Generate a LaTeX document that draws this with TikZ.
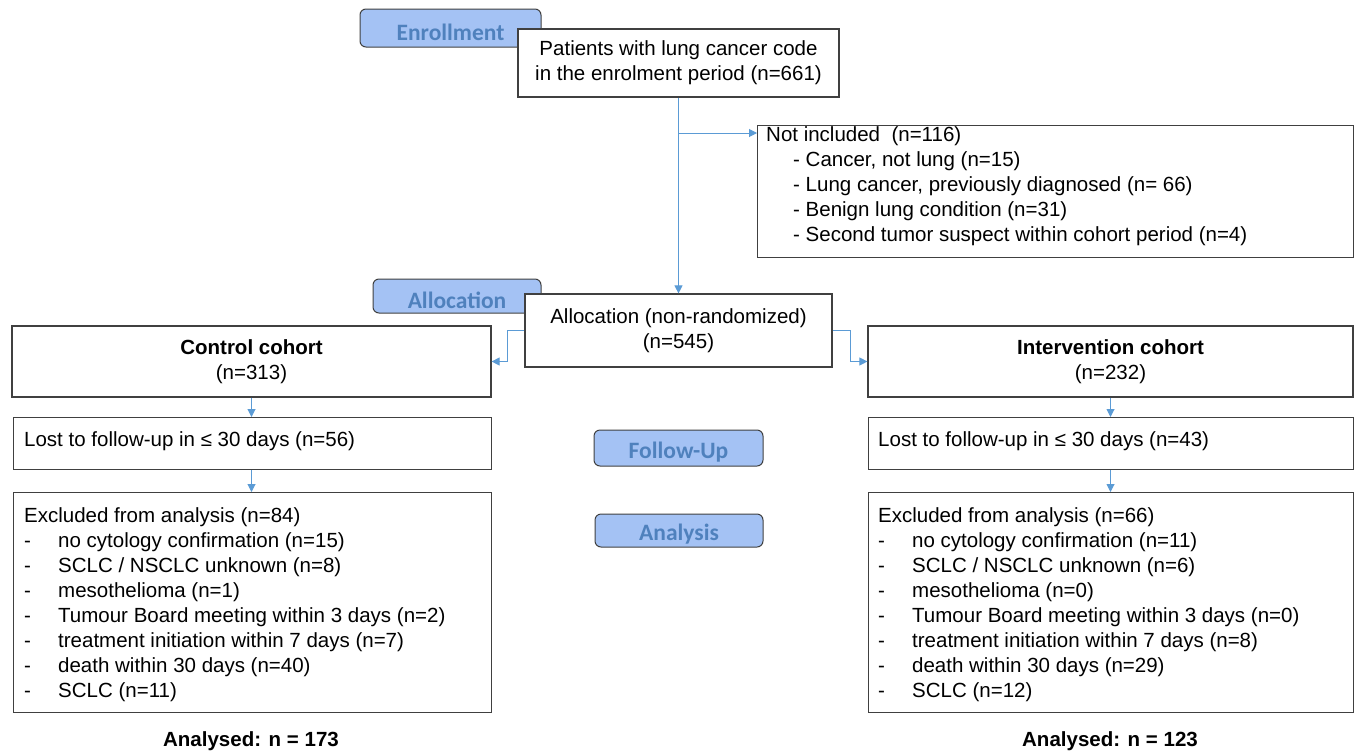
\documentclass[tikz,border=0pt]{standalone}
\usepackage{fontspec}
\setmainfont{Liberation Sans}
\newfontfamily\tabfamily{Carlito}
\usetikzlibrary{arrows.meta}
\definecolor{boxgray}{HTML}{404040}
\definecolor{arrowblue}{HTML}{5B9BD5}
\definecolor{tabfill}{HTML}{A4C2F4}
\definecolor{tabtext}{HTML}{4F81BD}
\newcommand{\mainsz}{\fontsize{20.5}{25}\selectfont}
\newcommand{\dashitem}[1]{\makebox[34pt][l]{-}#1}
\newcommand{\tablabel}[1]{\raisebox{-4pt}[\height][\depth]{#1}}
\tikzset{
  box/.style={draw=boxgray, line width=1.2pt, fill=white, inner sep=0pt, font=\mainsz, align=center},
  txt/.style={inner sep=0pt, font=\mainsz, align=left, anchor=west},
  tab/.style={draw=boxgray, line width=1pt, fill=tabfill, rounded corners=6pt, text=tabtext,
    font=\tabfamily\bfseries\fontsize{23.5}{26}\selectfont, inner sep=0pt},
  arr/.style={draw=arrowblue, line width=1pt, -{Triangle[length=8pt,width=8pt]}},
  res/.style={inner sep=0pt, font=\mainsz\bfseries},
}
\begin{document}
\begin{tikzpicture}[x=1pt,y=-1pt]
\useasboundingbox (0,0) rectangle (1357,753);
% tabs
\node[tab, minimum width=181pt, minimum height=38pt] (tenr) at (450.5,28) {\tablabel{Enrollment}};
\node[tab, minimum width=168pt, minimum height=34pt] (talloc) at (457,296) {\tablabel{Allocation}};
\node[tab, minimum width=169pt, minimum height=36pt] (tfol) at (678.5,448) {\tablabel{Follow-Up}};
\node[tab, minimum width=168pt, minimum height=33pt] (tana) at (679,530.5) {\tablabel{Analysis}};
% enrolment
\node[box, minimum width=321pt, minimum height=68pt] (pat) at (678.5,63)
  {Patients with lung cancer code\\in the enrolment period (n=661)};
\node[box, minimum width=596pt, minimum height=132pt, anchor=north west] (notinc) at (757,125) {};
\node[txt] (notinctxt) at (766,186) {Not included\ \ (n=116)\\
  \hspace*{27pt}- Cancer, not lung (n=15)\\
  \hspace*{27pt}- Lung cancer, previously diagnosed (n= 66)\\
  \hspace*{27pt}- Benign lung condition (n=31)\\
  \hspace*{27pt}- Second tumor suspect within cohort period (n=4)};
% allocation
\node[box, minimum width=307pt, minimum height=73pt] (alloc) at (678.5,330.5)
  {Allocation (non-randomized)\\(n=545)};
\node[box, minimum width=479pt, minimum height=71pt] (ctrl) at (251.5,361.5)
  {\textbf{Control cohort}\\(n=313)};
\node[box, minimum width=485pt, minimum height=71pt] (intv) at (1110.5,361.5)
  {\textbf{Intervention cohort}\\(n=232)};
% follow-up
\node[box, minimum width=478pt, minimum height=52pt, anchor=north west] (lostl) at (13,417) {};
\node[txt] (lostltxt) at (24,441) {Lost to follow-up in ≤ 30 days (n=56)};
\node[box, minimum width=485pt, minimum height=52pt, anchor=north west] (lostr) at (868,417) {};
\node[txt] (lostrtxt) at (878,441) {Lost to follow-up in ≤ 30 days (n=43)};
% analysis
\node[box, minimum width=478pt, minimum height=220pt, anchor=north west] (exl) at (13,492) {};
\node[txt] (exltxt) at (24,605) {Excluded from analysis (n=84)\\
  \dashitem{no cytology confirmation (n=15)}\\
  \dashitem{SCLC / NSCLC unknown (n=8)}\\
  \dashitem{mesothelioma (n=1)}\\
  \dashitem{Tumour Board meeting within 3 days (n=2)}\\
  \dashitem{treatment initiation within 7 days (n=7)}\\
  \dashitem{death within 30 days (n=40)}\\
  \dashitem{SCLC (n=11)}};
\node[box, minimum width=485pt, minimum height=220pt, anchor=north west] (exr) at (868,492) {};
\node[txt] (exrtxt) at (878,605) {Excluded from analysis (n=66)\\
  \dashitem{no cytology confirmation (n=11)}\\
  \dashitem{SCLC / NSCLC unknown (n=6)}\\
  \dashitem{mesothelioma (n=0)}\\
  \dashitem{Tumour Board meeting within 3 days (n=0)}\\
  \dashitem{treatment initiation within 7 days (n=8)}\\
  \dashitem{death within 30 days (n=29)}\\
  \dashitem{SCLC (n=12)}};
% results
\node[res] (resl) at (251,741) {Analysed: n = 173};
\node[res] (resr) at (1110,741) {Analysed: n = 123};
% connectors
\coordinate (branch) at (pat.south |- 0,133);
\draw[arr] (pat.south) -- (alloc.north);
\draw[arr] (branch) -- (branch -| notinc.west);
\draw[arr] (alloc.west) -- ++(-17,0) |- (ctrl.east);
\draw[arr] (alloc.east) -- ++(18,0) |- (intv.west);
\draw[arr] (ctrl.south) -- (ctrl.south |- lostl.north);
\draw[arr] (ctrl.south |- lostl.south) -- (ctrl.south |- exl.north);
\draw[arr] (intv.south) -- (intv.south |- lostr.north);
\draw[arr] (intv.south |- lostr.south) -- (intv.south |- exr.north);
\end{tikzpicture}
\end{document}
